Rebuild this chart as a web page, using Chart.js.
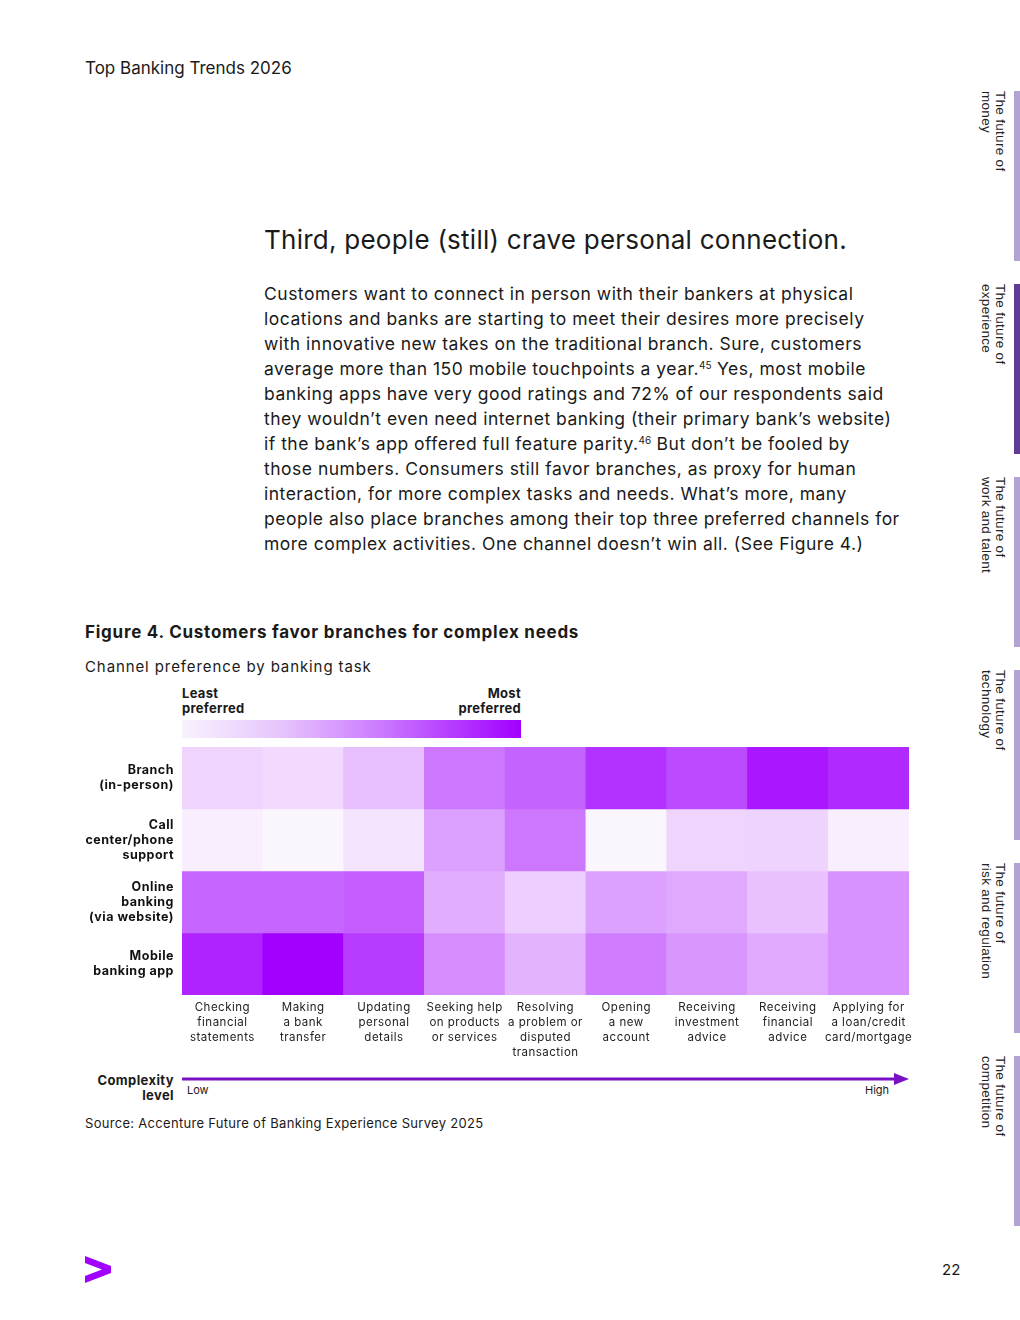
<!DOCTYPE html>
<html><head><meta charset="utf-8">
<script src="https://cdn.jsdelivr.net/npm/chart.js@4"></script>
<style>
body{margin:0;background:#fff;width:1020px;height:1320px;position:relative;font-family:Inter,"Noto Sans",sans-serif;color:#1a1a1a;overflow:hidden}
.abs{position:absolute;white-space:nowrap}
.side{position:absolute;writing-mode:vertical-rl;font-family:"Liberation Sans",Arial,sans-serif;font-size:13.5px;line-height:14px;letter-spacing:0.3px;color:#222;white-space:nowrap}
.bar{position:absolute;left:1014px;width:6px;height:170px;background:#b3a3d2}
sup{font-size:10px;line-height:0;vertical-align:6px;letter-spacing:0}
</style></head><body>
<div class="abs" style="left:85px;top:58px;font-size:17px;">Top Banking Trends 2026</div>

<div class="abs" style="left:264px;top:224px;font-size:26px;letter-spacing:0.25px;">Third, people (still) crave personal connection.</div>
<div class="abs" style="left:264px;top:281px;font-size:17.5px;line-height:25px;letter-spacing:0.5px;">
Customers want to connect in person with their bankers at physical<br>
locations and banks are starting to meet their desires more precisely<br>
with innovative new takes on the traditional branch. Sure, customers<br>
average more than 150 mobile touchpoints a year.<sup>45</sup> Yes, most mobile<br>
banking apps have very good ratings and 72% of our respondents said<br>
they wouldn’t even need internet banking (their primary bank’s website)<br>
if the bank’s app offered full feature parity.<sup>46</sup> But don’t be fooled by<br>
those numbers. Consumers still favor branches, as proxy for human<br>
interaction, for more complex tasks and needs. What’s more, many<br>
people also place branches among their top three preferred channels for<br>
more complex activities. One channel doesn’t win all. (See Figure 4.)
</div>

<div class="abs" style="left:85px;top:622px;font-size:17px;font-weight:700;letter-spacing:0.75px;">Figure 4. Customers favor branches for complex needs</div>
<div class="abs" style="left:85px;top:657px;font-size:15px;letter-spacing:0.9px;">Channel preference by banking task</div>

<div class="abs" style="left:182px;top:686px;font-size:13px;font-weight:700;line-height:15px;letter-spacing:0.3px;">Least<br>preferred</div>
<div class="abs" style="left:421px;width:100px;text-align:right;top:686px;font-size:13px;font-weight:700;line-height:15px;letter-spacing:0.3px;">Most<br>preferred</div>
<div class="abs" style="left:182px;top:720px;width:339px;height:18px;background:linear-gradient(to right,#f8f2fd,#e6c3fd 30%,#c976ff 60%,#a100ff);"></div>

<div class="abs" style="left:80px;top:740px;width:840px;height:330px;"><canvas id="c" width="840" height="330"></canvas></div>

<div class="abs" style="left:74px;width:100px;text-align:right;top:1073px;font-size:13px;font-weight:700;line-height:15px;letter-spacing:0.4px;">Complexity<br>level</div>
<svg class="abs" style="left:180px;top:1070px" width="735" height="20">
<line x1="2" y1="9" x2="718" y2="9" stroke="#7a12c4" stroke-width="3"/>
<polygon points="714,3 729,9 714,15" fill="#7a12c4"/>
</svg>
<div class="abs" style="left:187px;top:1083px;font-size:11px;">Low</div>
<div class="abs" style="left:865px;top:1083px;font-size:11px;">High</div>
<div class="abs" style="left:85px;top:1115px;font-size:13px;letter-spacing:0.3px;">Source: Accenture Future of Banking Experience Survey 2025</div>

<div class="side" style="left:979px;top:91px;">The future of<br>money</div>
<div class="bar" style="top:91px;"></div>
<div class="side" style="left:979px;top:284px;">The future of<br>experience</div>
<div class="bar" style="top:284px;background:#5f3b95;"></div>
<div class="side" style="left:979px;top:477px;">The future of<br>work and talent</div>
<div class="bar" style="top:477px;"></div>
<div class="side" style="left:979px;top:670px;">The future of<br>technology</div>
<div class="bar" style="top:670px;"></div>
<div class="side" style="left:979px;top:863px;">The future of<br>risk and regulation</div>
<div class="bar" style="top:863px;"></div>
<div class="side" style="left:979px;top:1056px;">The future of<br>competition</div>
<div class="bar" style="top:1056px;"></div>

<svg class="abs" style="left:85px;top:1256px" width="26" height="27">
<polygon points="0,0 26,10 26,17 0,27 0,20 17,13.5 0,7" fill="#a100ff"/>
</svg>
<div class="abs" style="left:942px;top:1260px;font-size:15px;">22</div>

<script>
// Tasks (x categories), ordered from low to high complexity
const tasks = [
  ["Checking","financial","statements"],
  ["Making","a bank","transfer"],
  ["Updating","personal","details"],
  ["Seeking help","on products","or services"],
  ["Resolving","a problem or","disputed","transaction"],
  ["Opening","a new","account"],
  ["Receiving","investment","advice"],
  ["Receiving","financial","advice"],
  ["Applying for","a loan/credit","card/mortgage"]
];
// Channels (rows)
const channels = [
  ["Branch","(in-person)"],
  ["Call","center/phone","support"],
  ["Online","banking","(via website)"],
  ["Mobile","banking app"]
];
// Preference intensity (0 = least preferred, 100 = most preferred), estimated from cell shading
const branchPref = [14, 12, 23, 52, 60, 80, 70, 91, 83];
const callPref   = [ 4,  1,  8, 35, 52,  1, 14, 15,  4];
const onlinePref = [59, 59, 62, 30, 17, 35, 32, 22, 41];
const mobilePref = [86, 100, 76, 43, 28, 50, 39, 31, 41];
const prefRows = [branchPref, callPref, onlinePref, mobilePref];

const lo = [252,248,254], hi = [161,0,255];
function shade(v){
  const t = Math.max(0, Math.min(1, v/100));
  const c = lo.map((a,i)=>Math.round(a + (hi[i]-a)*t));
  return `rgb(${c[0]},${c[1]},${c[2]})`;
}

const datasets = prefRows.map((vals, r) => ({
  label: channels[r].join(' '),
  data: vals.map(() => [r, r + 1]),
  backgroundColor: vals.map(shade),
  borderWidth: 0,
  grouped: false,
  categoryPercentage: 1,
  barPercentage: 1
}));

const spacing = {
  id: 'spacing',
  beforeDraw(chart){ chart.ctx.letterSpacing = '0.5px'; }
};

new Chart(document.getElementById('c'), {
  type: 'bar',
  data: { labels: tasks, datasets },
  plugins: [spacing],
  options: {
    responsive: false,
    animation: false,
    devicePixelRatio: 1,
    layout: { padding: { top: 7, right: 11, left: 0, bottom: 0 } },
    plugins: { legend: { display: false }, tooltip: { enabled: false } },
    scales: {
      x: {
        type: 'category',
        grid: { display: false, drawTicks: false },
        border: { display: false },
        ticks: {
          autoSkip: false, maxRotation: 0, minRotation: 0, padding: 5,
          color: '#222', font: { family: 'Inter', size: 11.5, lineHeight: 1.3 }
        },
        afterFit: s => { s.height = 75; s.paddingLeft = 0; s.paddingRight = 0; }
      },
      y: {
        type: 'linear', min: 0, max: 4, reverse: true,
        grid: { display: false, drawTicks: false },
        border: { display: false },
        afterBuildTicks: s => { s.ticks = channels.map((_, i) => ({ value: i + 0.5 })); },
        ticks: {
          padding: 8, color: '#111',
          font: { family: 'Inter', size: 12.5, weight: 'bold', lineHeight: 1.2 },
          callback: v => channels[Math.floor(v)]
        },
        afterFit: s => { s.width = 102; s.paddingTop = 0; s.paddingBottom = 0; }
      }
    }
  }
});
</script>
</body></html>
